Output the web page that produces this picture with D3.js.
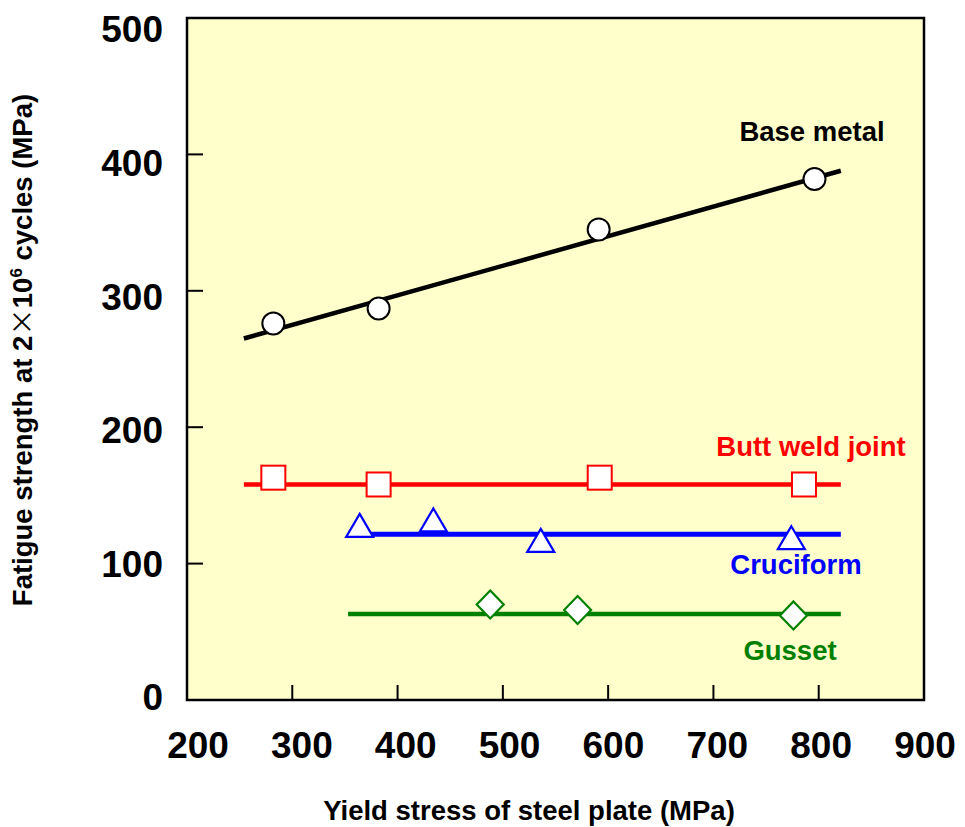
<!DOCTYPE html>
<html>
<head>
<meta charset="utf-8">
<script src="https://cdn.jsdelivr.net/npm/d3@7"></script>
<style>
  body { margin: 0; background: #fff; }
  text { font-family: "Liberation Sans", Arial, sans-serif; font-weight: bold; }
</style>
</head>
<body>
<svg id="chart" width="965" height="827"></svg>
<script>
// Tick values
const xTicks = [200, 300, 400, 500, 600, 700, 800, 900];
const yTicks = [0, 100, 200, 300, 400, 500];

// Measured points (yield stress, fatigue strength)
const baseX = [282, 382, 591, 796];
const baseY = [276, 287, 345, 382];
const buttX = [282, 382, 592, 786];
const buttY = [163, 158, 163, 158];
const cruX = [364, 434, 536, 774];
const cruY = [128, 132, 117, 119];
const gusX = [488, 571, 776];
const gusY = [70, 66, 62];

// Trend lines [x0, y0, x1, y1]
const baseFit = [254, 265, 821, 388];
const buttFit = [254, 158, 821, 158];
const cruFit = [363, 121.5, 821, 121.5];
const gusFit = [353, 63, 821, 63];

const svg = d3.select("#chart");

const x = d3.scaleLinear().domain([200, 900]).range([187, 924]);
const y = d3.scaleLinear().domain([0, 500]).range([700, 18]);
// label positions drift a little from the ticks in the original
const xLab = d3.scaleLinear().domain([200, 900]).range([198, 925]);
const yLab = d3.scaleLinear().domain([0, 500]).range([697, 29]);

// plot background
svg.append("rect")
    .attr("x", x(200)).attr("y", y(500))
    .attr("width", x(900) - x(200)).attr("height", y(0) - y(500))
    .attr("fill", "#ffffcc");

// inner ticks
svg.append("g").selectAll("line")
    .data(yTicks.slice(1, -1))
    .enter().append("line")
    .attr("x1", x(200)).attr("x2", x(200) + 16)
    .attr("y1", d => y(d)).attr("y2", d => y(d))
    .attr("stroke", "#000").attr("stroke-width", 2);

svg.append("g").selectAll("line")
    .data(xTicks.slice(1, -1))
    .enter().append("line")
    .attr("x1", d => x(d)).attr("x2", d => x(d))
    .attr("y1", y(0)).attr("y2", y(0) - 15)
    .attr("stroke", "#000").attr("stroke-width", 2);

// frame
svg.append("rect")
    .attr("x", x(200)).attr("y", y(500))
    .attr("width", x(900) - x(200)).attr("height", y(0) - y(500))
    .attr("fill", "none").attr("stroke", "#000").attr("stroke-width", 2.5);

// tick labels
svg.append("g").selectAll("text")
    .data(yTicks)
    .enter().append("text")
    .attr("x", 163).attr("y", d => yLab(d))
    .attr("dy", "0.36em")
    .attr("text-anchor", "end")
    .attr("font-size", 37)
    .text(d => d);

svg.append("g").selectAll("text")
    .data(xTicks)
    .enter().append("text")
    .attr("x", d => xLab(d)).attr("y", 745)
    .attr("dy", "0.36em")
    .attr("text-anchor", "middle")
    .attr("font-size", 37)
    .text(d => d);

// axis titles
svg.append("text")
    .attr("x", 529).attr("y", 820)
    .attr("text-anchor", "middle")
    .attr("font-size", 27.5)
    .text("Yield stress of steel plate (MPa)");

const yt = svg.append("text")
    .attr("transform", "translate(32,350) rotate(-90)")
    .attr("text-anchor", "middle")
    .attr("font-size", 27.5);
yt.append("tspan").text("Fatigue strength at 2");
yt.append("tspan")
    .style("font-family", "'Noto Sans CJK JP'")
    .style("font-weight", "normal")
    .text("\u00d7");
yt.append("tspan").text("10");
yt.append("tspan").attr("font-size", 17).attr("dy", -10).text("6");
yt.append("tspan").attr("dy", 10).text(" cycles (MPa)");

// trend lines
function fitLine(f, color, w) {
  svg.append("line")
      .attr("x1", x(f[0])).attr("y1", y(f[1]))
      .attr("x2", x(f[2])).attr("y2", y(f[3]))
      .attr("stroke", color).attr("stroke-width", w);
}
fitLine(baseFit, "#000", 4.5);
fitLine(buttFit, "#ff0000", 4.5);
fitLine(cruFit, "#0000ff", 5);
fitLine(gusFit, "#008000", 4.5);

function pts(xs, ys) { return xs.map((v, i) => [v, ys[i]]); }

// markers
svg.append("g").selectAll("circle")
    .data(pts(baseX, baseY))
    .enter().append("circle")
    .attr("cx", d => x(d[0])).attr("cy", d => y(d[1]))
    .attr("r", 11)
    .attr("fill", "#fff").attr("stroke", "#000").attr("stroke-width", 2);

svg.append("g").selectAll("rect")
    .data(pts(buttX, buttY))
    .enter().append("rect")
    .attr("x", d => x(d[0]) - 12).attr("y", d => y(d[1]) - 12)
    .attr("width", 24).attr("height", 24)
    .attr("fill", "#fff").attr("stroke", "#ff0000").attr("stroke-width", 2);

const tri = "M0,-11.5L13.5,11.5L-13.5,11.5Z";
svg.append("g").selectAll("path")
    .data(pts(cruX, cruY))
    .enter().append("path")
    .attr("d", tri)
    .attr("transform", d => `translate(${x(d[0])},${y(d[1])})`)
    .attr("fill", "#fff").attr("stroke", "#0000ff").attr("stroke-width", 2.2);

const dia = "M0,-14L13.5,0L0,14L-13.5,0Z";
svg.append("g").selectAll("path")
    .data(pts(gusX, gusY))
    .enter().append("path")
    .attr("d", dia)
    .attr("transform", d => `translate(${x(d[0])},${y(d[1])})`)
    .attr("fill", "#fff").attr("stroke", "#008000").attr("stroke-width", 2.2);

// series labels
const labels = [
  { text: "Base metal", x: 812, y: 131, color: "#000" },
  { text: "Butt weld joint", x: 811, y: 446, color: "#ff0000" },
  { text: "Cruciform", x: 796, y: 564, color: "#0000ff" },
  { text: "Gusset", x: 790, y: 650, color: "#008000" }
];
svg.append("g").selectAll("text")
    .data(labels)
    .enter().append("text")
    .attr("x", d => d.x).attr("y", d => d.y)
    .attr("dy", "0.36em")
    .attr("text-anchor", "middle")
    .attr("font-size", 27.5)
    .attr("fill", d => d.color)
    .text(d => d.text);
</script>
</body>
</html>
